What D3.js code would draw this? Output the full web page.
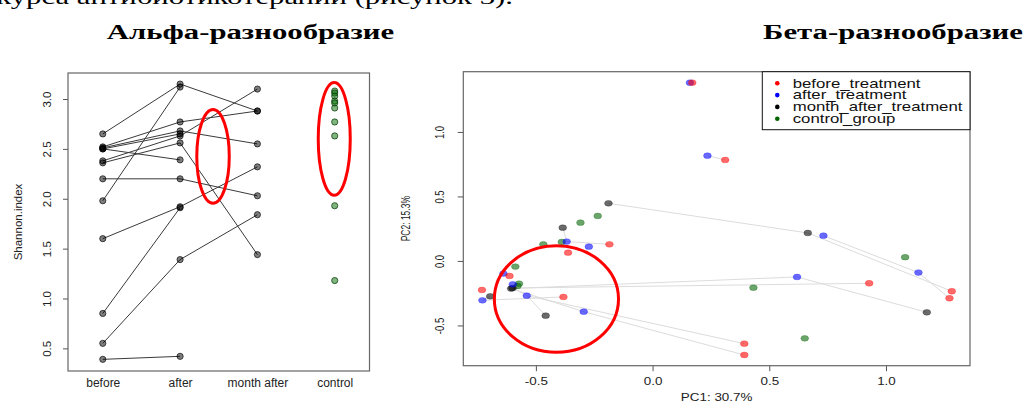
<!DOCTYPE html>
<html><head><meta charset="utf-8">
<script src="https://cdn.jsdelivr.net/npm/d3@7"></script>
<style>body{margin:0;background:#fff;} svg{display:block}</style>
</head><body>
<svg id="c" width="1031" height="403"></svg>
<script>
// ---------- DATA ----------
const headerText = "курса антибиотикотерапии (рисунок 3).";
const alphaTitle = "Альфа-разнообразие";
const betaTitle = "Бета-разнообразие";

const alphaCategories = ["before", "after", "month after", "control"];
const alphaTicks = [0.5, 1.0, 1.5, 2.0, 2.5, 3.0];
const alphaYLabel = "Shannon.index";
// paired by subject index
const alphaBefore = [2.65, 1.98, 2.52, 2.51, 2.50, 2.50, 2.38, 2.36, 2.20, 1.60, 0.85, 0.55, 0.39];
const alphaAfter  = [3.15, 3.12, 2.77, 2.68, 2.65, 2.39, 2.63, 2.56, 2.20, 1.92, 1.91, 1.39, 0.42];
const alphaMonth  = [2.88, null, 2.88, 2.55, null, null, 3.10, 1.44, 2.03, 2.32, null, 1.84, null];
const alphaControl = [3.08, 3.06, 3.03, 2.98, 2.96, 2.91, 2.77, 2.63, 1.93, 1.18];
// red hand-drawn rings (data units: category position, Shannon index)
const alphaRings = [[2.426, 2.425, 0.21, 0.47], [3.994, 2.60, 0.207, 0.565]];

const betaGroups = ["before_treatment", "after_treatment", "month_after_treatment", "control_group"];
const betaXTicks = [-0.5, 0.0, 0.5, 1.0];
const betaYTicks = [-0.5, 0.0, 0.5, 1.0];
const betaXLabel = "PC1: 30.7%";
const betaYLabel = "PC2: 15.3%";
const beforePC1 = [0.170, 0.311, -0.185, -0.362, -0.613, -0.731, -0.382, 0.928, 1.282, 1.272, 0.393, 0.393];
const beforePC2 = [1.382, 0.783, 0.129, 0.064, -0.116, -0.225, -0.279, -0.173, -0.235, -0.289, -0.641, -0.729];
const afterPC1  = [0.160, 0.235, -0.368, -0.273, -0.639, -0.599, -0.729, -0.539, -0.295, 0.732, 1.139, 0.619];
const afterPC2  = [1.382, 0.816, 0.150, 0.111, -0.098, -0.181, -0.305, -0.269, -0.393, 0.196, -0.090, -0.124];
const monthPC1  = [-0.189, -0.385, -0.606, -0.600, -0.696, -0.458, 0.665, 1.175];
const monthPC2  = [0.447, 0.258, -0.214, -0.210, -0.274, -0.424, 0.217, -0.398];
const controlPC1 = [-0.235, -0.309, -0.468, -0.389, -0.588, -0.572, -0.579, 1.082, 0.432, 0.652];
const controlPC2 = [0.349, 0.297, 0.129, 0.147, -0.044, -0.176, -0.194, 0.029, -0.207, -0.600];
const betaLinks = [["m",0,"m",6],["m",6,"b",8],["a",9,"a",10],["a",10,"b",9],["m",2,"a",11],["a",11,"m",7],
  ["m",3,"b",7],["a",6,"b",6],["m",4,"a",6],["a",7,"m",5],["a",7,"b",10],["a",8,"b",11],["m",2,"a",8],
  ["m",3,"a",7],["m",1,"a",2],["a",2,"b",2],["a",1,"b",1],["a",4,"b",4],["a",0,"b",0]];
// red ring (data units)
const betaRings = [[-0.412, -0.295, 0.266, 0.413]];

// ---------- DRAW ----------
const svg = d3.select("#c");
const SANS = "'Liberation Sans', Arial, Helvetica, sans-serif";
const SERIF = "'Liberation Serif', 'Times New Roman', serif";

// header / titles (document text, horizontally stretched like the source image)
svg.append("text").text(headerText).attr("font-family", SERIF).attr("font-size", 21.5)
  .attr("text-anchor", "end").attr("transform", "translate(513,4) scale(1.43,1)").attr("fill", "#000");
svg.append("text").text(alphaTitle).attr("font-family", SERIF).attr("font-size", 21.5).attr("font-weight", "bold")
  .attr("text-anchor", "middle").attr("transform", "translate(250.5,39) scale(1.43,1)");
svg.append("text").text(betaTitle).attr("font-family", SERIF).attr("font-size", 21.5).attr("font-weight", "bold")
  .attr("text-anchor", "middle").attr("transform", "translate(893,39) scale(1.43,1)");

// ===== Alpha diversity =====
const ax = d3.scaleLinear().domain([0.55, 4.45]).range([68, 369.5]);
const ay = d3.scaleLinear().domain([0.273, 3.261]).range([371, 73]);
const gA = svg.append("g");

// y axis
const yAxA = gA.append("g").attr("transform", `translate(${ax(0.55)},0)`)
  .call(d3.axisLeft(ay).tickValues(alphaTicks).tickSize(5).tickFormat(d3.format(".1f")));
yAxA.select(".domain").remove();
yAxA.selectAll(".tick line").attr("stroke", "#555");
yAxA.selectAll(".tick text").attr("x", null).attr("dy", null).attr("text-anchor", "middle")
  .attr("transform", "translate(-17.5,0) rotate(-90)")
  .attr("font-family", SANS).attr("font-size", 11.5).attr("fill", "#222");
// x axis labels
const xAxA = gA.append("g").attr("transform", `translate(0,${ay(0.273)})`)
  .call(d3.axisBottom(ax).tickValues([1, 2, 3, 4]).tickSize(0).tickFormat((d) => alphaCategories[d - 1]));
xAxA.select(".domain").remove();
xAxA.selectAll(".tick text").attr("y", 15.5).attr("dy", null)
  .attr("font-family", SANS).attr("font-size", 12).attr("fill", "#222");
// y label
gA.append("text").text(alphaYLabel).attr("font-family", SANS).attr("font-size", 11.5).attr("fill", "#222")
  .attr("text-anchor", "middle")
  .attr("transform", `translate(22,${(ay(0.273) + ay(3.261)) / 2}) rotate(-90)`);

// lines
const segA = [];
alphaBefore.forEach((v, i) => segA.push([1, v, 2, alphaAfter[i]]));
alphaMonth.forEach((v, i) => { if (v !== null) segA.push([2, alphaAfter[i], 3, v]); });
gA.selectAll("line.seg").data(segA).join("line").attr("class", "seg")
  .attr("x1", (d) => ax(d[0])).attr("y1", (d) => ay(d[1]))
  .attr("x2", (d) => ax(d[2])).attr("y2", (d) => ay(d[3]))
  .attr("stroke", "#3a3a3a").attr("stroke-width", 1);

// points
const ptsA = [];
alphaBefore.forEach((v) => ptsA.push([1, v]));
alphaAfter.forEach((v) => ptsA.push([2, v]));
alphaMonth.forEach((v) => { if (v !== null) ptsA.push([3, v]); });
gA.selectAll("circle.p").data(ptsA).join("circle").attr("class", "p")
  .attr("cx", (d) => ax(d[0])).attr("cy", (d) => ay(d[1])).attr("r", 3.1)
  .attr("fill", "rgba(0,0,0,0.5)").attr("stroke", "rgba(0,0,0,0.65)").attr("stroke-width", 1);
gA.selectAll("circle.c").data(alphaControl).join("circle").attr("class", "c")
  .attr("cx", ax(4)).attr("cy", (d) => ay(d)).attr("r", 3.1)
  .attr("fill", "rgba(0,110,0,0.5)").attr("stroke", "rgba(0,50,0,0.7)").attr("stroke-width", 1);

// box
gA.append("rect").attr("x", ax(0.55)).attr("y", ay(3.261))
  .attr("width", ax(4.45) - ax(0.55)).attr("height", ay(0.273) - ay(3.261))
  .attr("fill", "none").attr("stroke", "#666").attr("stroke-width", 1.2);

// red rings
gA.selectAll("ellipse.ring").data(alphaRings).join("ellipse").attr("class", "ring")
  .attr("cx", (d) => ax(d[0])).attr("cy", (d) => ay(d[1]))
  .attr("rx", (d) => ax(d[0] + d[2]) - ax(d[0])).attr("ry", (d) => ay(d[1] - d[3]) - ay(d[1]))
  .attr("fill", "none").attr("stroke", "#f00").attr("stroke-width", 3);

// ===== Beta diversity =====
const bx = d3.scaleLinear().domain([-0.811, 1.360]).range([463.3, 970]);
const by = d3.scaleLinear().domain([-0.812, 1.467]).range([365.7, 71.7]);
const gB = svg.append("g");

const xAxB = gB.append("g").attr("transform", `translate(0,${by(-0.812)})`)
  .call(d3.axisBottom(bx).tickValues(betaXTicks).tickSize(5.5).tickFormat(d3.format(".1f")));
xAxB.select(".domain").remove();
xAxB.selectAll(".tick line").attr("stroke", "#555");
xAxB.selectAll(".tick text").attr("y", null).attr("dy", null)
  .attr("transform", "translate(0,19.3) scale(1.28,1)")
  .attr("font-family", SANS).attr("font-size", 10.5).attr("fill", "#222").text((d) => d3.format(".1f")(d).replace("−", "-"));

const yAxB = gB.append("g").attr("transform", `translate(${bx(-0.811)},0)`)
  .call(d3.axisLeft(by).tickValues(betaYTicks).tickSize(5.5).tickFormat(d3.format(".1f")));
yAxB.select(".domain").remove();
yAxB.selectAll(".tick line").attr("stroke", "#555");
yAxB.selectAll(".tick text").attr("x", null).attr("dy", null).attr("text-anchor", "middle")
  .attr("transform", "translate(-19.8,0) rotate(-90) scale(1,1.4)")
  .attr("font-family", SANS).attr("font-size", 9.5).attr("fill", "#222").text((d) => d3.format(".1f")(d).replace("−", "-"));

gB.append("text").text(betaXLabel).attr("font-family", SANS).attr("font-size", 10.5).attr("fill", "#222")
  .attr("text-anchor", "middle")
  .attr("transform", `translate(${(bx(-0.811) + bx(1.360)) / 2},401) scale(1.28,1)`);
gB.append("text").text(betaYLabel).attr("font-family", SANS).attr("font-size", 8.5).attr("fill", "#222")
  .attr("text-anchor", "middle")
  .attr("transform", `translate(410,${(by(-0.812) + by(1.467)) / 2}) rotate(-90) scale(1,1.4)`);

const grp = {
  b: beforePC1.map((v, i) => [v, beforePC2[i]]),
  a: afterPC1.map((v, i) => [v, afterPC2[i]]),
  m: monthPC1.map((v, i) => [v, monthPC2[i]]),
  c: controlPC1.map((v, i) => [v, controlPC2[i]])
};
gB.selectAll("line.lk").data(betaLinks).join("line").attr("class", "lk")
  .attr("x1", (d) => bx(grp[d[0]][d[1]][0])).attr("y1", (d) => by(grp[d[0]][d[1]][1]))
  .attr("x2", (d) => bx(grp[d[2]][d[3]][0])).attr("y2", (d) => by(grp[d[2]][d[3]][1]))
  .attr("stroke", "#dcdcdc").attr("stroke-width", 1);

const colB = { c: "rgb(0,100,0)", m: "rgb(0,0,0)", a: "rgb(0,0,255)", b: "rgb(255,0,0)" };
["c", "m", "a", "b"].forEach((k) => {
  gB.selectAll("ellipse.pt" + k).data(grp[k]).join("ellipse").attr("class", "pt" + k)
    .attr("cx", (d) => bx(d[0])).attr("cy", (d) => by(d[1])).attr("rx", 3.9).attr("ry", 2.9)
    .attr("fill", colB[k]).attr("fill-opacity", 0.58)
    .attr("stroke", colB[k]).attr("stroke-opacity", 0.35).attr("stroke-width", 0.8);
});

gB.append("rect").attr("x", bx(-0.811)).attr("y", by(1.467))
  .attr("width", bx(1.360) - bx(-0.811)).attr("height", by(-0.812) - by(1.467))
  .attr("fill", "none").attr("stroke", "#666").attr("stroke-width", 1.2);

// legend
const legX = 762.3, legTop = by(1.467), legBot = 129.7;
gB.append("rect").attr("x", legX).attr("y", legTop).attr("width", bx(1.360) - legX).attr("height", legBot - legTop)
  .attr("fill", "#fff").attr("stroke", "#111").attr("stroke-width", 1);
const legCols = ["#ff0000", "#0000ff", "#000000", "#006400"];
const leg = gB.selectAll("g.leg").data(betaGroups).join("g").attr("class", "leg")
  .attr("transform", (d, i) => `translate(${legX},${83.3 + i * 11.8})`);
leg.append("circle").attr("cx", 15).attr("cy", 0).attr("r", 2.3).attr("fill", (d, i) => legCols[i]);
leg.append("text").text((d) => d).attr("font-family", SANS).attr("font-size", 12).attr("fill", "#111")
  .attr("transform", "translate(30.4,4.2) scale(1.4,1)");

// red ring
gB.selectAll("ellipse.ring").data(betaRings).join("ellipse").attr("class", "ring")
  .attr("cx", (d) => bx(d[0])).attr("cy", (d) => by(d[1]))
  .attr("rx", (d) => bx(d[0] + d[2]) - bx(d[0])).attr("ry", (d) => by(d[1] - d[3]) - by(d[1]))
  .attr("fill", "none").attr("stroke", "#f00").attr("stroke-width", 3);
</script>
</body></html>
